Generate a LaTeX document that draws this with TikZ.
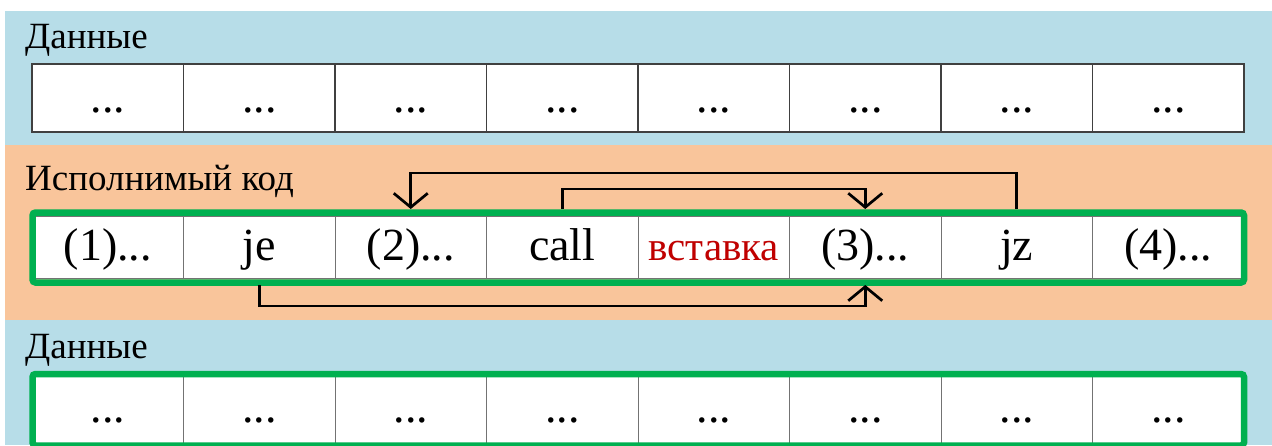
\documentclass[tikz,border=0pt]{standalone}
\usepackage{fontspec}
\setmainfont{Liberation Serif}
\usetikzlibrary{arrows.meta}
\definecolor{bandblue}{HTML}{B7DDE8}
\definecolor{bandorange}{HTML}{F9C59B}
\definecolor{framegreen}{HTML}{00B050}
\definecolor{insred}{HTML}{C00000}
\tikzset{
  cell/.style={fill=white, minimum width=151.5pt, inner sep=0pt, outer sep=0pt,
    font=\fontsize{46}{50}\selectfont},
  toprow/.style={cell, draw=black!75, line width=1.2pt, minimum height=68pt, text height=34pt, text depth=6pt},
  midrow/.style={cell, draw=black!55, line width=1pt, minimum height=62pt, text height=32pt, text depth=6pt},
  botrow/.style={cell, draw=black!55, line width=1pt, minimum height=71pt, text height=31pt, text depth=6pt},
  bandlabel/.style={anchor=base west, inner sep=0pt, font=\fontsize{37}{40}\selectfont},
  gframe/.style={draw=framegreen, line width=6.5pt, rounded corners=3pt},
  conn/.style={draw=black, line width=2.7pt},
  arr/.style={conn, -{Straight Barb[length=14pt, width=34pt, line width=2.7pt]}}
}
\begin{document}
\begin{tikzpicture}[x=1pt, y=-1pt]
\clip (0,0) rectangle (1272,445);
\fill[white] (0,0) rectangle (1272,445);
% bands
\fill[bandblue] (5,11) rectangle (1272,145);
\fill[bandorange] (5,145) rectangle (1272,320);
\fill[bandblue] (5,320) rectangle (1272,445);
% labels
\node[bandlabel] (lab1) at (25,48) {Данные};
\node[bandlabel] (lab2) at (25,190) {Исполнимый код};
\node[bandlabel] (lab3) at (25,358) {Данные};
% top data row
\node[toprow] (d1) at (107.75,98) {...};
\node[toprow] (d2) at (259.25,98) {...};
\node[toprow] (d3) at (410.75,98) {...};
\node[toprow] (d4) at (562.25,98) {...};
\node[toprow] (d5) at (713.75,98) {...};
\node[toprow] (d6) at (865.25,98) {...};
\node[toprow] (d7) at (1016.75,98) {...};
\node[toprow] (d8) at (1168.25,98) {...};
% code row
\node[midrow] (c1) at (107.75,247) {(1)...};
\node[midrow] (c2) at (259.25,247) {je};
\node[midrow] (c3) at (410.75,247) {(2)...};
\node[midrow] (c4) at (562.25,247) {call};
\node[midrow, text=insred, font=\fontsize{41}{45}\selectfont] (c5) at (713.75,247) {вставка};
\node[midrow] (c6) at (865.25,247) {(3)...};
\node[midrow] (c7) at (1016.75,247) {jz};
\node[midrow] (c8) at (1168.25,247) {(4)...};
% bottom data row
\node[botrow] (b1) at (107.75,409.5) {...};
\node[botrow] (b2) at (259.25,409.5) {...};
\node[botrow] (b3) at (410.75,409.5) {...};
\node[botrow] (b4) at (562.25,409.5) {...};
\node[botrow] (b5) at (713.75,409.5) {...};
\node[botrow] (b6) at (865.25,409.5) {...};
\node[botrow] (b7) at (1016.75,409.5) {...};
\node[botrow] (b8) at (1168.25,409.5) {...};
% green frames
\draw[gframe] (32.5,212.5) rectangle (1244,282.5);
\draw[gframe] (32.5,374) rectangle (1244,445.5);
% connectors
\coordinate (jzup) at (1016.75,173);
\coordinate (callup) at (562.25,189);
\coordinate (jedown) at (259.25,306);
\draw[arr] ([yshift=7pt]c7.north) -- (jzup) -| ([yshift=7pt]c3.north);
\draw[arr] ([yshift=7pt]c4.north) -- (callup) -| ([yshift=7pt]c6.north);
\draw[arr] ([yshift=-7pt]c2.south) -- (jedown) -| ([yshift=-7pt]c6.south);
\end{tikzpicture}
\end{document}
